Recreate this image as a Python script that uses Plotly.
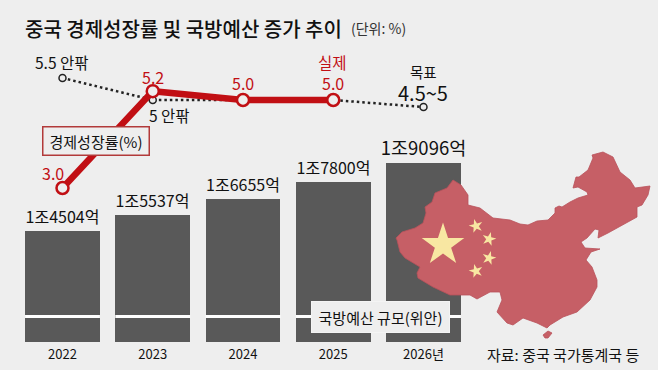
import plotly.graph_objects as go

FONT = "Noto Sans CJK KR"
BG = "#eeeeee"
RED = "#c10f14"
DARK = "#595959"
W, H = 658, 370

years = ["2022", "2023", "2024", "2025", "2026년"]
budget = [14504, 15537, 16655, 17800, 19096]
budget_labels = ["1조4504억", "1조5537억", "1조6655억", "1조7800억", "1조9096억"]
budget_label_sizes = [16, 16, 16, 16, 18.5]
growth = [3.0, 5.2, 5.0, 5.0]
growth_labels = ["3.0", "5.2", "5.0", "5.0"]
target = [5.5, 5.0, 5.0, 5.0, 4.84]
target_x = [0, 1, 2, 3, 4]

map_x = [396,402,415,423,426,425,432,435,447,453,461,468,468,480,493,510,520,528,537,548,555,555,559,562,570,578,588,587,578,573,576,579,588,593,592,603,613,620,630,635,650,648,642,637,637,623,617,608,598,599,595,587,581,585,600,591,586,592,597,597,590,583,577,563,550,547,537,523,513,507,497,502,500,490,477,470,462,450,433,418,417,420,405,400,397,396]
map_y = [238,232,228,223,213,207,202,193,188,180,185,195,205,208,218,220,224,225,221,220,213,208,206,207,202,198,195,192,187,188,177,177,170,158,155,152,157,172,180,188,186,195,205,207,217,225,228,233,238,230,229,238,242,248,249,252,260,267,280,287,300,307,312,317,325,328,323,318,325,323,312,300,292,292,299,295,295,295,287,278,273,267,258,252,240,238]
hainan_x = [543,548,552,548,545,543]
hainan_y = [335,331,333,338,338,335]
star_big_x, star_big_y = [443], [245]
star_small_x = [476, 489, 489, 476]
star_small_y = [226, 239, 258, 271]
star_small_angle = [-15, 15, 15, -15]

px_unit = 90.25
x0_px = 62.5
x_range = [-x0_px / px_unit, (W - x0_px) / px_unit]
plot_h = 342
bar_scale = 0.01472
bar_base = 6936
break_value = bar_base + (342 - 316.5) / bar_scale
bar_w = 0.83

fig = go.Figure()
fig.add_trace(go.Bar(x=list(range(5)), y=budget, width=bar_w, marker=dict(color=DARK, line=dict(width=0)),
                     text=budget_labels, textposition="outside", cliponaxis=False, constraintext="none",
                     textfont=dict(family=FONT, size=budget_label_sizes, color="#111111"),
                     xaxis="x", yaxis="y"))
fig.add_trace(go.Scatter(x=target_x, y=target, mode="lines+markers", xaxis="x", yaxis="y2",
                         line=dict(color="#222222", width=2.5, dash="2.5px 3px"),
                         marker=dict(size=7, color=BG, line=dict(color="#222222", width=1.5))))
fig.add_trace(go.Scatter(x=list(range(4)), y=growth, mode="lines+markers", xaxis="x", yaxis="y2",
                         line=dict(color=RED, width=6.5),
                         marker=dict(size=12, color=BG, line=dict(color=RED, width=2.5))))
for xs, ys in [(map_x, map_y), (hainan_x, hainan_y)]:
    fig.add_trace(go.Scatter(x=xs, y=ys, mode="lines", fill="toself", fillcolor="#c65f66",
                             line=dict(color="#b9525a", width=0.8), xaxis="x3", yaxis="y3"))
fig.add_trace(go.Scatter(x=star_big_x, y=star_big_y, mode="markers", xaxis="x3", yaxis="y3",
                         marker=dict(symbol="star", size=32, color="#f8e7a2", line=dict(width=0))))
fig.add_trace(go.Scatter(x=star_small_x, y=star_small_y, mode="markers", xaxis="x3", yaxis="y3",
                         marker=dict(symbol="star", size=10.5, color="#f8e7a2", angle=star_small_angle, line=dict(width=0))))

ann = []
def txt(text, x, y, size, color="#111111", xanchor="center", **kw):
    ann.append(dict(text=text, x=x / W, y=1 - y / H, xref="paper", yref="paper", showarrow=False,
                    xanchor=xanchor, yanchor="middle",
                    font=dict(family=FONT, size=size, color=color), **kw))

txt("중국 경제성장률 및 국방예산 증가 추이", 23, 28, 20, xanchor="left")
ann[-1]["font"]["weight"] = 500
txt("(단위: %)", 349, 28, 14, "#333333", xanchor="left")
txt("5.5 안팎", 62, 62, 15.5)
txt("5 안팎", 169, 115, 15.5)
txt("목표", 423, 71, 14.5)
txt("4.5~5", 423, 92, 20)
txt(growth_labels[0], 53, 173, 16, RED)
txt(growth_labels[1], 153, 77, 16, RED)
txt(growth_labels[2], 243, 83, 16, RED)
txt(growth_labels[3], 333, 83, 16, RED)
txt("실제", 333, 62, 15.5, RED)
txt("자료: 중국 국가통계국 등", 563, 354, 15)
txt("경제성장률(%)", 95.5, 140.5, 15, width=105, height=27, bgcolor=BG, bordercolor="#b23a3a", borderwidth=1.5, borderpad=0)
txt("국방예산 규모(위안)", 380.5, 316.5, 15, width=137, height=30, bgcolor=BG, bordercolor="#f4f4f4", borderwidth=1, borderpad=0)

shapes = [dict(type="line", xref="x", yref="y", x0=i - bar_w / 2, x1=i + bar_w / 2, y0=break_value, y1=break_value,
               line=dict(color="#ffffff", width=3), layer="above") for i in range(5)]

fig.update_layout(
    width=W, height=H, margin=dict(l=0, r=0, t=0, b=0), paper_bgcolor=BG, plot_bgcolor=BG,
    showlegend=False, annotations=ann, shapes=shapes, bargap=0,
    xaxis=dict(domain=[0, 1], range=x_range, tickmode="array", tickvals=list(range(5)), ticktext=years,
               showgrid=False, zeroline=False, showline=False, ticks="", ticklabelstandoff=3,
               tickfont=dict(family=FONT, size=13, color="#111111")),
    yaxis=dict(domain=[(H - plot_h) / H, 1], range=[bar_base, bar_base + plot_h / bar_scale], visible=False),
    yaxis2=dict(domain=[(H - plot_h) / H, 1], range=[5.0 - 242 / 44, 5.0 + 100 / 44], overlaying="y", visible=False),
    xaxis3=dict(domain=[0, 1], range=[0, W], overlaying="x", visible=False, anchor="y3"),
    yaxis3=dict(domain=[(H - plot_h) / H, 1], range=[plot_h, 0], overlaying="y", visible=False, anchor="x3"),
)
fig.write_html("out.html", config=dict(displayModeBar=False),
               post_script="document.body.style.margin='0';document.body.style.background='#eeeeee';")
